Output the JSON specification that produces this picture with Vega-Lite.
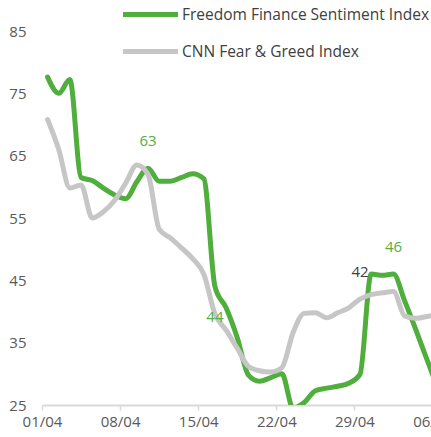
{
  "$schema": "https://vega.github.io/schema/vega-lite/v6.json",
  "autosize": "none",
  "padding": {"left": 42, "top": 31, "right": -2, "bottom": 32},
  "width": 391,
  "height": 374,
  "background": "white",
  "config": {
    "view": {"stroke": null},
    "font": "Open Sans",
    "text": {"font": "Open Sans"}
  },
  "datasets": {
    "lines": [
      {"date": "2024-04-01T12:00:00Z", "series": "Freedom Finance Sentiment Index", "value": 77.6},
      {"date": "2024-04-02T12:00:00Z", "series": "Freedom Finance Sentiment Index", "value": 75.0},
      {"date": "2024-04-03T12:00:00Z", "series": "Freedom Finance Sentiment Index", "value": 77.2},
      {"date": "2024-04-04T12:00:00Z", "series": "Freedom Finance Sentiment Index", "value": 61.5},
      {"date": "2024-04-05T12:00:00Z", "series": "Freedom Finance Sentiment Index", "value": 61.0},
      {"date": "2024-04-06T12:00:00Z", "series": "Freedom Finance Sentiment Index", "value": 59.8},
      {"date": "2024-04-07T12:00:00Z", "series": "Freedom Finance Sentiment Index", "value": 58.7},
      {"date": "2024-04-08T12:00:00Z", "series": "Freedom Finance Sentiment Index", "value": 58.1},
      {"date": "2024-04-09T12:00:00Z", "series": "Freedom Finance Sentiment Index", "value": 60.8},
      {"date": "2024-04-10T12:00:00Z", "series": "Freedom Finance Sentiment Index", "value": 63.0},
      {"date": "2024-04-11T12:00:00Z", "series": "Freedom Finance Sentiment Index", "value": 60.9},
      {"date": "2024-04-12T12:00:00Z", "series": "Freedom Finance Sentiment Index", "value": 60.9},
      {"date": "2024-04-13T12:00:00Z", "series": "Freedom Finance Sentiment Index", "value": 61.5},
      {"date": "2024-04-14T12:00:00Z", "series": "Freedom Finance Sentiment Index", "value": 62.1},
      {"date": "2024-04-15T12:00:00Z", "series": "Freedom Finance Sentiment Index", "value": 61.3},
      {"date": "2024-04-16T12:00:00Z", "series": "Freedom Finance Sentiment Index", "value": 44.0},
      {"date": "2024-04-17T12:00:00Z", "series": "Freedom Finance Sentiment Index", "value": 40.6},
      {"date": "2024-04-18T12:00:00Z", "series": "Freedom Finance Sentiment Index", "value": 35.8},
      {"date": "2024-04-19T12:00:00Z", "series": "Freedom Finance Sentiment Index", "value": 29.8},
      {"date": "2024-04-20T12:00:00Z", "series": "Freedom Finance Sentiment Index", "value": 28.8},
      {"date": "2024-04-21T12:00:00Z", "series": "Freedom Finance Sentiment Index", "value": 29.4},
      {"date": "2024-04-22T12:00:00Z", "series": "Freedom Finance Sentiment Index", "value": 30.0},
      {"date": "2024-04-23T12:00:00Z", "series": "Freedom Finance Sentiment Index", "value": 24.5},
      {"date": "2024-04-24T12:00:00Z", "series": "Freedom Finance Sentiment Index", "value": 25.4},
      {"date": "2024-04-25T12:00:00Z", "series": "Freedom Finance Sentiment Index", "value": 27.3},
      {"date": "2024-04-26T12:00:00Z", "series": "Freedom Finance Sentiment Index", "value": 27.7},
      {"date": "2024-04-27T12:00:00Z", "series": "Freedom Finance Sentiment Index", "value": 28.0},
      {"date": "2024-04-28T12:00:00Z", "series": "Freedom Finance Sentiment Index", "value": 28.5},
      {"date": "2024-04-29T12:00:00Z", "series": "Freedom Finance Sentiment Index", "value": 29.9},
      {"date": "2024-04-30T12:00:00Z", "series": "Freedom Finance Sentiment Index", "value": 46.0},
      {"date": "2024-05-01T12:00:00Z", "series": "Freedom Finance Sentiment Index", "value": 45.8},
      {"date": "2024-05-02T12:00:00Z", "series": "Freedom Finance Sentiment Index", "value": 46.0},
      {"date": "2024-05-03T12:00:00Z", "series": "Freedom Finance Sentiment Index", "value": 41.7},
      {"date": "2024-05-04T12:00:00Z", "series": "Freedom Finance Sentiment Index", "value": 37.1},
      {"date": "2024-05-05T12:00:00Z", "series": "Freedom Finance Sentiment Index", "value": 32.3},
      {"date": "2024-05-06T12:00:00Z", "series": "Freedom Finance Sentiment Index", "value": 27.5},
      {"date": "2024-04-01T12:00:00Z", "series": "CNN Fear & Greed Index", "value": 70.8},
      {"date": "2024-04-02T12:00:00Z", "series": "CNN Fear & Greed Index", "value": 66.0},
      {"date": "2024-04-03T12:00:00Z", "series": "CNN Fear & Greed Index", "value": 59.8},
      {"date": "2024-04-04T12:00:00Z", "series": "CNN Fear & Greed Index", "value": 60.3},
      {"date": "2024-04-05T12:00:00Z", "series": "CNN Fear & Greed Index", "value": 55.0},
      {"date": "2024-04-06T12:00:00Z", "series": "CNN Fear & Greed Index", "value": 56.0},
      {"date": "2024-04-07T12:00:00Z", "series": "CNN Fear & Greed Index", "value": 57.8},
      {"date": "2024-04-08T12:00:00Z", "series": "CNN Fear & Greed Index", "value": 60.6},
      {"date": "2024-04-09T12:00:00Z", "series": "CNN Fear & Greed Index", "value": 63.5},
      {"date": "2024-04-10T12:00:00Z", "series": "CNN Fear & Greed Index", "value": 62.0},
      {"date": "2024-04-11T12:00:00Z", "series": "CNN Fear & Greed Index", "value": 53.2},
      {"date": "2024-04-12T12:00:00Z", "series": "CNN Fear & Greed Index", "value": 51.8},
      {"date": "2024-04-13T12:00:00Z", "series": "CNN Fear & Greed Index", "value": 50.2},
      {"date": "2024-04-14T12:00:00Z", "series": "CNN Fear & Greed Index", "value": 48.5},
      {"date": "2024-04-15T12:00:00Z", "series": "CNN Fear & Greed Index", "value": 46.0},
      {"date": "2024-04-16T12:00:00Z", "series": "CNN Fear & Greed Index", "value": 39.6},
      {"date": "2024-04-17T12:00:00Z", "series": "CNN Fear & Greed Index", "value": 37.0},
      {"date": "2024-04-18T12:00:00Z", "series": "CNN Fear & Greed Index", "value": 34.1},
      {"date": "2024-04-19T12:00:00Z", "series": "CNN Fear & Greed Index", "value": 31.2},
      {"date": "2024-04-20T12:00:00Z", "series": "CNN Fear & Greed Index", "value": 30.5},
      {"date": "2024-04-21T12:00:00Z", "series": "CNN Fear & Greed Index", "value": 30.3},
      {"date": "2024-04-22T12:00:00Z", "series": "CNN Fear & Greed Index", "value": 31.0},
      {"date": "2024-04-23T12:00:00Z", "series": "CNN Fear & Greed Index", "value": 36.6},
      {"date": "2024-04-24T12:00:00Z", "series": "CNN Fear & Greed Index", "value": 39.7},
      {"date": "2024-04-25T12:00:00Z", "series": "CNN Fear & Greed Index", "value": 39.8},
      {"date": "2024-04-26T12:00:00Z", "series": "CNN Fear & Greed Index", "value": 39.0},
      {"date": "2024-04-27T12:00:00Z", "series": "CNN Fear & Greed Index", "value": 39.8},
      {"date": "2024-04-28T12:00:00Z", "series": "CNN Fear & Greed Index", "value": 40.6},
      {"date": "2024-04-29T12:00:00Z", "series": "CNN Fear & Greed Index", "value": 42.0},
      {"date": "2024-04-30T12:00:00Z", "series": "CNN Fear & Greed Index", "value": 42.7},
      {"date": "2024-05-01T12:00:00Z", "series": "CNN Fear & Greed Index", "value": 43.0},
      {"date": "2024-05-02T12:00:00Z", "series": "CNN Fear & Greed Index", "value": 43.2},
      {"date": "2024-05-03T12:00:00Z", "series": "CNN Fear & Greed Index", "value": 39.3},
      {"date": "2024-05-04T12:00:00Z", "series": "CNN Fear & Greed Index", "value": 38.9},
      {"date": "2024-05-05T12:00:00Z", "series": "CNN Fear & Greed Index", "value": 39.2},
      {"date": "2024-05-06T12:00:00Z", "series": "CNN Fear & Greed Index", "value": 39.5}
    ],
    "labels": [
      {"date": "2024-04-10T12:00:00Z", "series": "Freedom Finance Sentiment Index", "value": 63, "position": "above"},
      {"date": "2024-04-16T12:00:00Z", "series": "Freedom Finance Sentiment Index", "value": 44, "position": "below"},
      {"date": "2024-04-29T12:00:00Z", "series": "CNN Fear & Greed Index", "value": 42, "position": "above"},
      {"date": "2024-05-02T12:00:00Z", "series": "Freedom Finance Sentiment Index", "value": 46, "position": "above"}
    ]
  },
  "encoding": {
    "x": {
      "field": "date",
      "type": "temporal",
      "scale": {
        "type": "utc",
        "domain": [
          {"year": 2024, "month": 4, "date": 1, "utc": true},
          {"year": 2024, "month": 5, "date": 6, "hours": 1, "utc": true}
        ]
      },
      "axis": {
        "title": null,
        "grid": false,
        "format": "%d/%m",
        "values": [
          {"year": 2024, "month": 4, "date": 1, "utc": true},
          {"year": 2024, "month": 4, "date": 8, "utc": true},
          {"year": 2024, "month": 4, "date": 15, "utc": true},
          {"year": 2024, "month": 4, "date": 22, "utc": true},
          {"year": 2024, "month": 4, "date": 29, "utc": true},
          {"year": 2024, "month": 5, "date": 6, "utc": true}
        ],
        "domainColor": "#d9d9d9",
        "domainWidth": 2,
        "tickColor": "#d9d9d9",
        "tickWidth": 1.5,
        "tickSize": 5,
        "labelFont": "Open Sans",
        "labelFontSize": 15,
        "labelColor": "#595959",
        "labelPadding": 4,
        "labelFlush": false,
        "labelOverlap": false,
        "labelBound": false
      }
    },
    "y": {
      "field": "value",
      "type": "quantitative",
      "scale": {"domain": [25, 85], "nice": false, "zero": false},
      "axis": {
        "title": null,
        "grid": false,
        "domain": false,
        "ticks": false,
        "values": [25, 35, 45, 55, 65, 75, 85],
        "labelFont": "Open Sans",
        "labelFontSize": 15,
        "labelColor": "#595959",
        "labelPadding": 16
      }
    }
  },
  "layer": [
    {
      "data": {"name": "lines"},
      "mark": {"type": "line", "interpolate": "monotone", "strokeWidth": 5, "strokeCap": "round", "strokeJoin": "round", "clip": true},
      "encoding": {
        "color": {
          "field": "series",
          "type": "nominal",
          "scale": {
            "domain": ["Freedom Finance Sentiment Index", "CNN Fear & Greed Index"],
            "range": ["#4fae3c", "#c6c6c6"]
          },
          "legend": {
            "title": null,
            "orient": "none",
            "legendX": 96,
            "legendY": -29,
            "padding": 0,
            "symbolType": "M-2.75,0H2.75",
            "symbolSize": 400,
            "symbolStrokeWidth": 5,
            "labelFont": "Open Sans",
            "labelFontSize": 15.5,
            "labelColor": "#404040",
            "labelOffset": 19,
            "labelLimit": 400,
            "rowPadding": 14
          }
        }
      }
    },
    {
      "data": {"name": "labels"},
      "transform": [{"filter": "datum.position === 'above' && datum.series === 'Freedom Finance Sentiment Index'"}],
      "mark": {"type": "text", "fontSize": 15, "color": "#56ad44", "dy": -27, "align": "center", "baseline": "middle"},
      "encoding": {"text": {"field": "value", "type": "quantitative"}}
    },
    {
      "data": {"name": "labels"},
      "transform": [{"filter": "datum.position === 'below'"}],
      "mark": {"type": "text", "fontSize": 15, "color": "#56ad44", "dy": 30, "align": "center", "baseline": "middle"},
      "encoding": {"text": {"field": "value", "type": "quantitative"}}
    },
    {
      "data": {"name": "labels"},
      "transform": [{"filter": "datum.series === 'CNN Fear & Greed Index'"}],
      "mark": {"type": "text", "fontSize": 15, "color": "#404040", "dy": -27, "align": "center", "baseline": "middle"},
      "encoding": {"text": {"field": "value", "type": "quantitative"}}
    }
  ]
}
